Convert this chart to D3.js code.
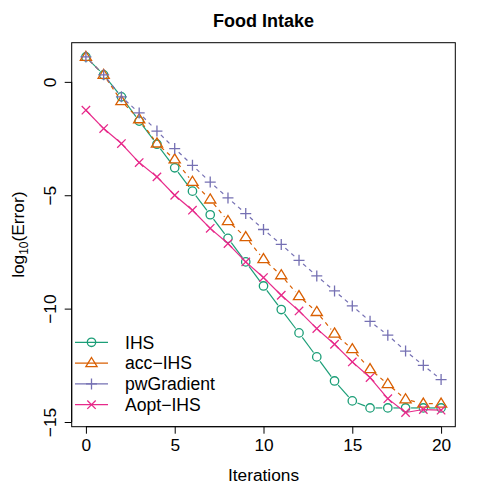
<!DOCTYPE html>
<html>
<head>
<meta charset="utf-8">
<script src="https://cdn.jsdelivr.net/npm/d3@7"></script>
<style>
  body { margin: 0; background: #fff; }
  text { font-family: "Liberation Sans", Arial, sans-serif; }
</style>
</head>
<body>
<svg width="498" height="498"></svg>
<script>
const iterations = d3.range(0, 21);

const ihs = [1.1, 0.31, -0.66, -1.73, -2.75, -3.79, -4.82, -5.86, -6.9, -7.94, -9.0,
    -10.04, -11.07, -12.13, -13.19, -14.07, -14.38, -14.38, -14.38, -14.38, -14.38];
const accIhs = [1.1, 0.31, -0.85, -1.65, -2.72, -3.42, -4.41, -5.19, -6.14, -6.85, -7.82,
    -8.53, -9.45, -10.15, -11.1, -11.79, -12.67, -13.33, -14.0, -14.19, -14.19];
const pwGradient = [1.1, 0.31, -0.66, -1.37, -2.17, -2.94, -3.68, -4.42, -5.12, -5.81, -6.51,
    -7.17, -7.87, -8.56, -9.22, -9.88, -10.56, -11.17, -11.87, -12.5, -13.13];
const aoptIhs = [-1.25, -2.06, -2.72, -3.56, -4.19, -5.0, -5.66, -6.46, -7.13, -7.94, -8.63,
    -9.41, -10.1, -10.88, -11.57, -12.35, -13.04, -13.97, -14.58, -14.45, -14.48];

const xTicks = [0, 5, 10, 15, 20];
const yTicks = [0, -5, -10, -15];

const seriesNames = ['IHS', 'acc\u2212IHS', 'pwGradient', 'Aopt\u2212IHS'];
const seriesValues = [ihs, accIhs, pwGradient, aoptIhs];
const seriesColors = ['#1B9E77', '#D95F02', '#7570B3', '#E7298A'];
const seriesShapes = ['circle', 'triangle', 'plus', 'cross'];
const seriesDash = [null, '4,4', '4,4', null];
const seriesGap = [true, true, true, false];

const svg = d3.select('svg');
const pLeft = 71.7, pRight = 455.3, pTop = 42.7, pBottom = 426.7;
const fs = 17.3;

// R style 4% padding
const allVals = seriesValues.flat();
const yMin = d3.min(allVals), yMax = d3.max(allVals);
const yPad = (yMax - yMin) * 0.04;
const x = d3.scaleLinear().domain([-0.8, 20.8]).range([pLeft, pRight]);
const y = d3.scaleLinear().domain([yMin - yPad, yMax + yPad]).range([pBottom, pTop]);

// axes
const xAxis = svg.append('g')
    .attr('transform', 'translate(0,' + pBottom + ')')
    .call(d3.axisBottom(x).tickValues(xTicks).tickSize(7).tickPadding(5).tickFormat(d3.format('d')));
xAxis.select('.domain').attr('d', 'M' + x(0) + ',0H' + x(20)).attr('stroke', '#000');
xAxis.selectAll('text').attr('font-size', fs).attr('fill', '#000')
    .attr('font-family', '"Liberation Sans", Arial, sans-serif');

const yAxis = svg.append('g')
    .attr('transform', 'translate(' + pLeft + ',0)')
    .call(d3.axisLeft(y).tickValues(yTicks).tickSize(7).tickFormat(d => d < 0 ? '\u2212' + Math.abs(d) : d));
yAxis.select('.domain').attr('d', 'M0,' + y(0) + 'V' + y(-15)).attr('stroke', '#000');
yAxis.selectAll('.tick text')
    .attr('font-size', fs).attr('fill', '#000')
    .attr('font-family', '"Liberation Sans", Arial, sans-serif')
    .attr('x', null).attr('dy', null)
    .attr('text-anchor', 'middle')
    .attr('transform', 'translate(-16,0) rotate(-90)');

// box
svg.append('rect')
    .attr('x', pLeft).attr('y', pTop)
    .attr('width', pRight - pLeft).attr('height', pBottom - pTop)
    .attr('fill', 'none').attr('stroke', '#000').attr('stroke-width', 1);

// titles
svg.append('text')
    .attr('x', (pLeft + pRight) / 2).attr('y', 27)
    .attr('text-anchor', 'middle').attr('font-size', 18).attr('font-weight', 'bold')
    .text('Food Intake');

svg.append('text')
    .attr('x', (pLeft + pRight) / 2).attr('y', 481)
    .attr('text-anchor', 'middle').attr('font-size', fs)
    .text('Iterations');

const yl = svg.append('text')
    .attr('transform', 'translate(24,' + ((pTop + pBottom) / 2) + ') rotate(-90)')
    .attr('text-anchor', 'middle').attr('font-size', fs);
yl.append('tspan').text('log');
yl.append('tspan').attr('font-size', 12).attr('dy', 4).text('10');
yl.append('tspan').attr('dy', -4).text('(Error)');

const drawSymbol = (g, shape, color, cx, cy) => {
    if (shape === 'circle') {
        g.append('circle').attr('cx', cx).attr('cy', cy).attr('r', 4.2)
            .attr('fill', 'none').attr('stroke', color).attr('stroke-width', 1.3);
    } else if (shape === 'triangle') {
        const s = 5.6;
        g.append('path')
            .attr('d', 'M' + cx + ',' + (cy - s) + 'L' + (cx + s) + ',' + (cy + s * 0.62) + 'L' + (cx - s) + ',' + (cy + s * 0.62) + 'Z')
            .attr('fill', 'none').attr('stroke', color).attr('stroke-width', 1.3);
    } else if (shape === 'plus') {
        const s = 5.5;
        g.append('path')
            .attr('d', 'M' + (cx - s) + ',' + cy + 'H' + (cx + s) + 'M' + cx + ',' + (cy - s) + 'V' + (cy + s))
            .attr('stroke', color).attr('stroke-width', 1.3);
    } else {
        const s = 4.2;
        g.append('path')
            .attr('d', 'M' + (cx - s) + ',' + (cy - s) + 'L' + (cx + s) + ',' + (cy + s) + 'M' + (cx - s) + ',' + (cy + s) + 'L' + (cx + s) + ',' + (cy - s))
            .attr('stroke', color).attr('stroke-width', 1.3);
    }
};

// series
const gap = 5.5;
seriesValues.forEach((vals, k) => {
    const g = svg.append('g');
    const pts = vals.map((v, i) => [x(iterations[i]), y(v)]);
    for (let i = 0; i < pts.length - 1; i++) {
        let [x1, y1] = pts[i];
        let [x2, y2] = pts[i + 1];
        if (seriesGap[k]) {
            const dx = x2 - x1, dy = y2 - y1;
            const len = Math.sqrt(dx * dx + dy * dy);
            if (len <= 2 * gap) continue;
            const ux = dx / len, uy = dy / len;
            x1 += ux * gap; y1 += uy * gap;
            x2 -= ux * gap; y2 -= uy * gap;
        }
        g.append('line')
            .attr('x1', x1).attr('y1', y1).attr('x2', x2).attr('y2', y2)
            .attr('stroke', seriesColors[k]).attr('stroke-width', 1.2)
            .attr('stroke-dasharray', seriesDash[k]);
    }
    pts.forEach(p => drawSymbol(g, seriesShapes[k], seriesColors[k], p[0], p[1]));
});

// legend
const legend = svg.append('g');
seriesNames.forEach((name, k) => {
    const ly = 342.3 + k * 20.8;
    legend.append('line')
        .attr('x1', 75).attr('x2', 108).attr('y1', ly).attr('y2', ly)
        .attr('stroke', seriesColors[k]).attr('stroke-width', 1.2);
    drawSymbol(legend, seriesShapes[k], seriesColors[k], 91.5, ly);
    legend.append('text')
        .attr('x', 125).attr('y', ly + 6.3)
        .attr('font-size', 17.6)
        .text(name);
});
</script>
</body>
</html>
